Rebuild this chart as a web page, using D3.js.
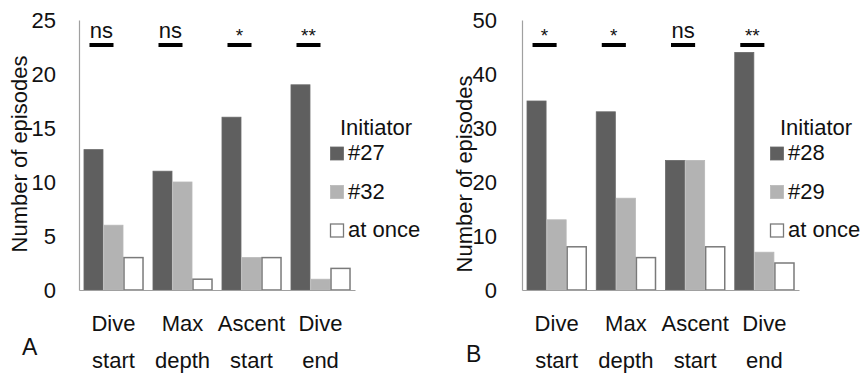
<!DOCTYPE html>

<head>
  <meta charset="utf-8">
  <script src="https://d3js.org/d3.v7.min.js"></script>
  <style>
    body {
      margin: 0;
      background: #fff;
    }
    text {
      font-family: "Liberation Sans", Arial, sans-serif;
      fill: #111;
    }
  </style>
</head>

<body>

  <svg width="863" height="374"></svg>

  <script>
    // categories (two lines each)
    const categories = ["Dive start", "Max depth", "Ascent start", "Dive end"];
    const catLines = [["Dive", "start"], ["Max", "depth"], ["Ascent", "start"], ["Dive", "end"]];
    const seriesKeys = ["first", "second", "once"];

    // panel A
    const namesA = ["#27", "#32", "at once"];
    const firstA = [13, 11, 16, 19];
    const secondA = [6, 10, 3, 1];
    const onceA = [3, 1, 3, 2];
    const sigA = ["ns", "ns", "*", "**"];
    const ticksA = [0, 5, 10, 15, 20, 25];

    // panel B
    const namesB = ["#28", "#29", "at once"];
    const firstB = [35, 33, 24, 44];
    const secondB = [13, 17, 24, 7];
    const onceB = [8, 6, 8, 5];
    const sigB = ["*", "*", "ns", "**"];
    const ticksB = [0, 10, 20, 30, 40, 50];

    const fills = { first: "#5f5f5f", second: "#b3b3b3", once: "#ffffff" };
    const strokes = { first: "#6a6a6a", second: "#b8b8b8", once: "#7a7a7a" };

    const svg = d3.select("svg");

    function panel(opt) {
      const g = svg.append("g");
      const rows = categories.map((c, i) => ({
        cat: c, first: opt.first[i], second: opt.second[i], once: opt.once[i]
      }));

      const x = d3.scaleBand().domain(categories).range(opt.xr)
        .paddingInner(0.13).paddingOuter(0.065);
      const xs = d3.scaleBand().domain(seriesKeys).range([0, x.bandwidth()]);
      const y = d3.scaleLinear().domain([0, d3.max(opt.ticks)]).range([290, 20]);

      // bars
      g.selectAll("g.grp").data(rows).join("g")
        .attr("transform", d => `translate(${x(d.cat)},0)`)
        .selectAll("rect")
        .data(d => seriesKeys.map(k => ({ k, v: d[k] })))
        .join("rect")
        .attr("x", d => xs(d.k) + 0.5)
        .attr("width", xs.bandwidth() - 1)
        .attr("y", d => y(d.v))
        .attr("height", d => y(0) - y(d.v))
        .attr("fill", d => fills[d.k])
        .attr("stroke", d => strokes[d.k])
        .attr("stroke-width", d => d.k === "once" ? 1.5 : 0.8);

      // y axis
      const ya = g.append("g")
        .attr("transform", `translate(${opt.xr[0]},0)`)
        .call(d3.axisLeft(y).tickValues(opt.ticks).tickSize(0).tickPadding(opt.tickPad));
      ya.select(".domain").attr("stroke", "#a0a0a0").attr("stroke-width", 1.2);
      ya.selectAll("text").style("font-size", "22px")
        .style("font-family", '"Liberation Sans", Arial, sans-serif').attr("fill", "#111");

      // x axis
      const xa = g.append("g")
        .attr("transform", `translate(0,${y(0)})`)
        .call(d3.axisBottom(x).tickSize(0).tickFormat(""));
      xa.select(".domain").attr("stroke", "#a0a0a0").attr("stroke-width", 1.2);

      categories.forEach((c, i) => {
        const cx = x(c) + x.bandwidth() / 2;
        catLines[i].forEach((t, j) => {
          g.append("text")
            .attr("x", cx)
            .attr("y", 331 + j * 37)
            .attr("text-anchor", "middle")
            .style("font-size", "22px")
            .text(t);
        });
      });

      // significance marks
      categories.forEach((c, i) => {
        const x0 = x(c) + x.bandwidth() * 0.1;
        const x1 = x(c) + x.bandwidth() * 0.5;
        g.append("line")
          .attr("x1", x0).attr("x2", x1)
          .attr("y1", 45).attr("y2", 45)
          .attr("stroke", "#000").attr("stroke-width", 4);
        const s = opt.sig[i];
        g.append("text")
          .attr("x", (x0 + x1) / 2)
          .attr("y", s === "ns" ? 38 : 42)
          .attr("text-anchor", "middle")
          .style("font-size", s === "ns" ? "22px" : "19px")
          .text(s);
      });

      // y label
      g.append("text")
        .attr("transform", `translate(${opt.ylabX},${opt.ylabY}) rotate(-90)`)
        .attr("text-anchor", "middle")
        .style("font-size", "22px")
        .text("Number of episodes");

      // panel letter
      g.append("text")
        .attr("x", opt.letterX).attr("y", opt.letterY)
        .style("font-size", "23px")
        .text(opt.letter);

      // legend
      const lg = g.append("g").attr("transform", `translate(${opt.legX},0)`);
      lg.append("text").attr("x", 10).attr("y", 135)
        .style("font-size", "22px").text("Initiator");
      seriesKeys.forEach((k, i) => {
        const ty = 147 + i * 38.5;
        lg.append("rect")
          .attr("x", 0.5).attr("y", ty)
          .attr("width", 13).attr("height", 13)
          .attr("fill", fills[k])
          .attr("stroke", strokes[k]).attr("stroke-width", k === "once" ? 1.3 : 0.8);
        lg.append("text").attr("x", 18).attr("y", ty + 13)
          .style("font-size", "22px").text(opt.names[i]);
      });
    }

    panel({
      xr: [79, 355], first: firstA, second: secondA, once: onceA, sig: sigA,
      ticks: ticksA, names: namesA, tickPad: 23, ylabX: 27, ylabY: 154,
      letter: "A", letterX: 22, letterY: 355, legX: 330
    });

    panel({
      xr: [522, 799], first: firstB, second: secondB, once: onceB, sig: sigB,
      ticks: ticksB, names: namesB, tickPad: 25, ylabX: 472, ylabY: 174,
      letter: "B", letterX: 466, letterY: 362, legX: 770
    });

  </script>
</body>
